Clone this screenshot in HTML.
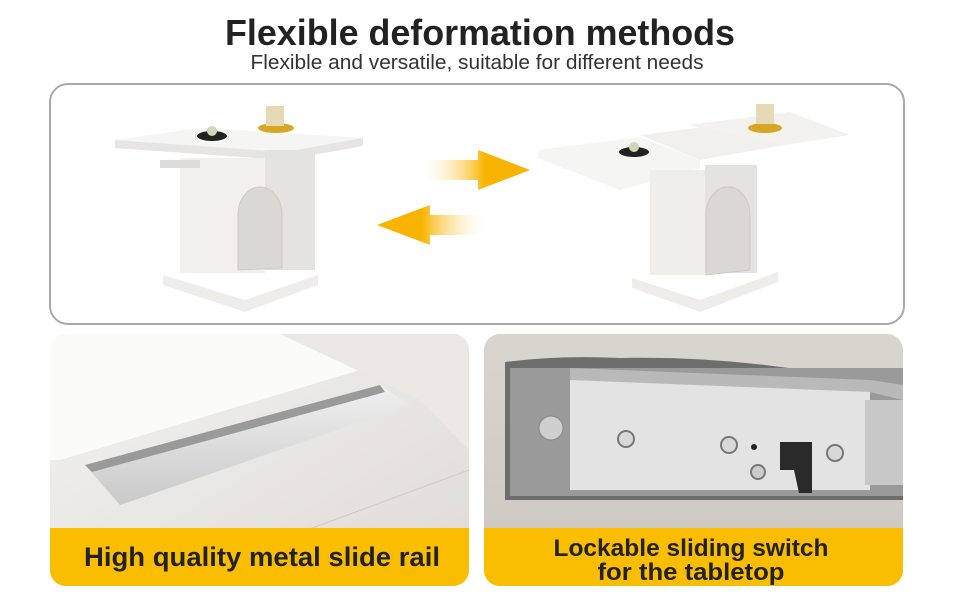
<!DOCTYPE html>
<html><head><meta charset="utf-8"><style>
html,body{margin:0;padding:0;background:#fff;width:970px;height:600px;overflow:hidden}
svg{display:block}
text{font-family:"Liberation Sans",sans-serif}
</style></head><body>
<svg width="970" height="600" viewBox="0 0 970 600" xmlns="http://www.w3.org/2000/svg">
<defs>
<linearGradient id="ar" x1="0" x2="1"><stop offset="0" stop-color="#fff" stop-opacity="0"/><stop offset="0.6" stop-color="#f8b400"/><stop offset="1" stop-color="#f8b400"/></linearGradient>
<linearGradient id="al" x1="1" x2="0"><stop offset="0" stop-color="#fff" stop-opacity="0"/><stop offset="0.6" stop-color="#f8b400"/><stop offset="1" stop-color="#f8b400"/></linearGradient>
<linearGradient id="lp" x1="0" y1="0" x2="1" y2="1"><stop offset="0" stop-color="#f4f3f1"/><stop offset="1" stop-color="#dedbd6"/></linearGradient>
<linearGradient id="rp" x1="0" y1="0" x2="0" y2="1"><stop offset="0" stop-color="#d9d5cf"/><stop offset="1" stop-color="#cbc6bf"/></linearGradient>
<linearGradient id="rail" x1="0" y1="0" x2="0" y2="1"><stop offset="0" stop-color="#f0f0f0"/><stop offset="1" stop-color="#c9c9c9"/></linearGradient>
<clipPath id="cl"><rect x="50" y="334" width="419" height="252" rx="16"/></clipPath>
<clipPath id="cr"><rect x="484" y="334" width="419" height="252" rx="16"/></clipPath>
</defs>
<text x="480" y="45" text-anchor="middle" font-size="36" font-weight="bold" fill="#222" textLength="510" lengthAdjust="spacingAndGlyphs">Flexible deformation methods</text>
<text x="477" y="69" text-anchor="middle" font-size="20" fill="#333" textLength="453" lengthAdjust="spacingAndGlyphs">Flexible and versatile, suitable for different needs</text>
<rect x="50" y="84" width="854" height="240" rx="18" fill="#fff" stroke="#a9a9a9" stroke-width="2"/>
<!-- left table -->
<polygon points="115,140 200,128 363,138 363,146 285,160 115,148" fill="#f5f5f3"/>
<polygon points="115,140 285,152 363,138 363,146 285,160 115,148" fill="#e6e5e2"/>
<rect x="180" y="158" width="85" height="115" fill="#f1f0ed"/>
<rect x="265" y="150" width="50" height="120" fill="#e4e3df"/>
<rect x="160" y="160" width="40" height="8" fill="#dedcd8"/>
<path d="M238,270 V215 a22,28 0 0 1 44,0 V268 Z" fill="#d9d8d3" stroke="#cfcac0"/>
<polygon points="163,275 245,300 318,275 318,285 245,312 163,285" fill="#eeede9"/>
<ellipse cx="212" cy="136" rx="15" ry="5" fill="#222"/>
<circle cx="212" cy="131" r="5" fill="#cfd8b8"/>
<ellipse cx="276" cy="128" rx="18" ry="5" fill="#d6a624"/>
<rect x="266" y="106" width="18" height="20" fill="#e6d9b5"/>
<!-- arrows -->
<polygon points="418,160 478,160 478,150 530,170 478,190 478,180 418,180" fill="url(#ar)"/>
<polygon points="490,215 430,215 430,205 377,225 430,245 430,235 490,235" fill="url(#al)"/>
<!-- right table -->
<polygon points="538,150 640,137 700,160 700,168 620,190 538,158" fill="#f5f5f3"/>
<polygon points="640,135 730,124 785,145 700,160" fill="#f1f0ed"/>
<polygon points="688,125 790,112 850,135 785,145" fill="#f3f2ef"/>
<rect x="650" y="170" width="55" height="105" fill="#efeee9"/>
<rect x="705" y="165" width="52" height="108" fill="#e4e3df"/>
<path d="M706,275 V215 a22,28 0 0 1 44,0 V270 Z" fill="#d9d8d3" stroke="#cfcac0"/>
<polygon points="632,278 700,300 778,272 778,282 700,312 632,288" fill="#eeede9"/>
<ellipse cx="634" cy="152" rx="15" ry="5" fill="#222"/>
<circle cx="634" cy="147" r="5" fill="#cfd8b8"/>
<ellipse cx="765" cy="128" rx="17" ry="5" fill="#d6a624"/>
<rect x="756" y="104" width="18" height="20" fill="#e6d9b5"/>
<!-- bottom left -->
<g clip-path="url(#cl)">
<rect x="50" y="334" width="419" height="252" fill="url(#lp)"/>
<polygon points="50,334 280,334 360,370 60,460 50,460" fill="#fbfbfa"/>
<polygon points="280,334 469,334 469,450 420,400" fill="#ece9e5"/>
<polygon points="85,465 380,385 410,405 120,505" fill="url(#rail)"/>
<polygon points="85,465 380,385 385,392 92,472" fill="#9a9a9a"/>
<line x1="280" y1="540" x2="469" y2="470" stroke="#cfcbc5"/>
<rect x="50" y="528" width="419" height="58" fill="#fbbd00"/>
</g>
<text x="262" y="566" text-anchor="middle" font-size="27" font-weight="bold" fill="#222" textLength="356" lengthAdjust="spacingAndGlyphs">High quality metal slide rail</text>
<!-- bottom right -->
<g clip-path="url(#cr)">
<rect x="484" y="334" width="419" height="252" fill="url(#rp)"/>
<path d="M505,362 Q560,355 620,358 Q760,355 903,390 V500 H505 Z" fill="#6e6e6e"/>
<path d="M510,368 H903 V496 H510 Z" fill="#9a9a9a"/>
<polygon points="570,375 870,390 870,490 570,490" fill="#e3e3e3"/>
<polygon points="570,368 870,380 903,385 903,400 870,392 570,380" fill="#b9b9b9"/>
<rect x="865" y="400" width="40" height="85" fill="#c8c8c8"/>
<circle cx="551" cy="428" r="12" fill="#cfcfcf" stroke="#888"/>
<circle cx="626" cy="439" r="8" fill="#d8d8d8" stroke="#777" stroke-width="2"/>
<circle cx="729" cy="445" r="8" fill="#d8d8d8" stroke="#777" stroke-width="2"/>
<circle cx="835" cy="453" r="8" fill="#d8d8d8" stroke="#777" stroke-width="2"/>
<circle cx="758" cy="472" r="7" fill="#ccc" stroke="#777" stroke-width="2"/>
<circle cx="754" cy="447" r="3" fill="#222"/>
<path d="M780,442 H812 V493 H799 L794,470 H780 Z" fill="#2a2a2a"/>
<rect x="484" y="528" width="419" height="58" fill="#fbbd00"/>
</g>
<text x="691" y="556" text-anchor="middle" font-size="24" font-weight="bold" fill="#222" textLength="275" lengthAdjust="spacingAndGlyphs">Lockable sliding switch</text>
<text x="691" y="580" text-anchor="middle" font-size="24" font-weight="bold" fill="#222" textLength="187" lengthAdjust="spacingAndGlyphs">for the tabletop</text>
</svg>
</body></html>
